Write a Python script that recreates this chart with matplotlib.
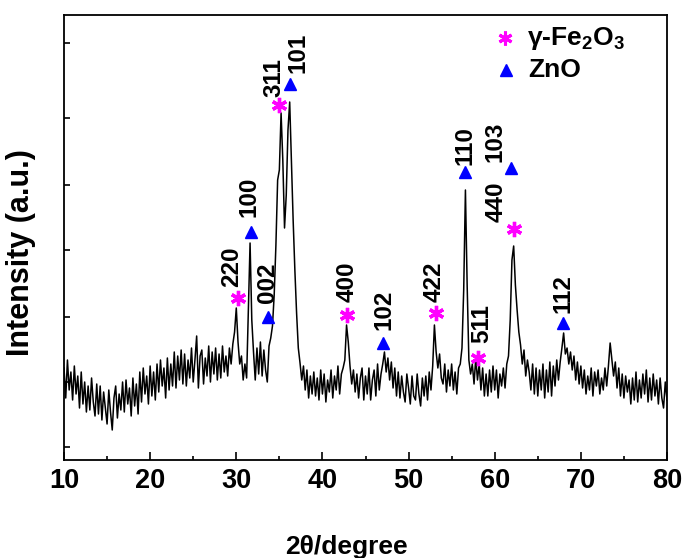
import numpy as np
import matplotlib
matplotlib.use("Agg")
import matplotlib.pyplot as plt

plt.rcParams['font.family'] = ['Liberation Sans', 'DejaVu Sans']
plt.rcParams['mathtext.fontset'] = 'custom'
plt.rcParams['mathtext.rm'] = 'Liberation Sans:bold'
plt.rcParams['mathtext.bf'] = 'Liberation Sans:bold'
plt.rcParams['mathtext.it'] = 'Liberation Sans:bold'

# XRD pattern, 2theta from 10 to 80 in 0.2 degree steps (intensity in arbitrary units)
two_theta_start = 10.0
two_theta_step = 0.2
intensity = [
    92, 62, 100, 70, 88,    # 10
    60, 94, 66, 84, 52,     # 11
    88, 56, 78, 48, 74,     # 12
    50, 82, 58, 44, 76,     # 13
    46, 74, 40, 68, 52,     # 14
    36, 70, 48, 30, 62,     # 15
    74, 42, 66, 50, 78,     # 16
    48, 80, 56, 72, 44,     # 17
    82, 54, 76, 46, 88,     # 18
    58, 92, 66, 84, 56,     # 19
    94, 64, 88, 60, 96,     # 20
    68, 100, 74, 92, 62,    # 21
    102, 70, 96, 74, 108,   # 22
    72, 104, 80, 110, 76,   # 23
    106, 74, 100, 82, 112,  # 24
    78, 100, 124, 72, 104,  # 25
    110, 76, 102, 84, 114,  # 26
    78, 108, 86, 112, 80,   # 27
    106, 82, 114, 88, 104,  # 28
    84, 112, 96, 116, 128,  # 29
    152, 118, 96, 104, 80,  # 30
    96, 82, 150, 217, 140,  # 31
    108, 80, 112, 86, 118,  # 32
    84, 110, 90, 78, 114,   # 33
    122, 134, 165, 215, 280,  # 34
    290, 347, 300, 232, 265,  # 35
    330, 358, 300, 240, 190,  # 36
    147, 112, 97, 80, 94,   # 37
    70, 90, 62, 84, 66,     # 38
    88, 64, 82, 60, 90,     # 39
    66, 86, 58, 80, 68,     # 40
    90, 62, 84, 70, 94,     # 41
    66, 86, 92, 100, 135,   # 42
    118, 94, 76, 90, 68,    # 43
    86, 62, 82, 92, 60,     # 44
    84, 66, 92, 60, 80,     # 45
    90, 64, 96, 70, 86,     # 46
    96, 108, 88, 102, 80,   # 47
    98, 72, 92, 64, 88,     # 48
    62, 84, 68, 58, 86,     # 49
    72, 56, 84, 64, 60,     # 50
    86, 66, 54, 82, 64,     # 51
    84, 60, 88, 70, 94,     # 52
    135, 108, 92, 106, 82,  # 53
    76, 96, 68, 90, 74,     # 54
    96, 70, 88, 66, 92,     # 55
    96, 112, 170, 270, 175,  # 56
    100, 86, 96, 76, 102,   # 57
    80, 96, 70, 92, 64,     # 58
    86, 64, 90, 68, 94,     # 59
    70, 90, 62, 86, 74,     # 60
    92, 72, 96, 104, 140,   # 61
    200, 214, 175, 150, 128,  # 62
    115, 96, 110, 84, 100,  # 63
    88, 70, 96, 66, 92,     # 64
    64, 90, 70, 96, 62,     # 65
    90, 68, 98, 64, 94,     # 66
    74, 100, 80, 98, 112,   # 67
    127, 106, 112, 96, 108,  # 68
    90, 104, 80, 98, 76,    # 69
    94, 72, 90, 66, 84,     # 70
    70, 92, 64, 88, 74,     # 71
    90, 66, 82, 70, 92,     # 72
    74, 94, 117, 100, 84,   # 73
    98, 72, 92, 64, 86,     # 74
    62, 84, 68, 80, 56,     # 75
    82, 60, 88, 58, 80,     # 76
    62, 86, 66, 90, 58,     # 77
    82, 60, 86, 64, 80,     # 78
    56, 82, 62, 52, 78,     # 79
    60,                     # 80
]

# gamma-Fe2O3 reflections
fe_pos = [30.20, 34.96, 42.85, 53.19, 58.06, 62.24]
fe_h = [162, 355, 145, 147, 102, 231]
fe_hkl = ['220', '311', '400', '422', '511', '440']
fe_lab_x = [29.50, 34.38, 42.85, 52.95, 58.53, 60.15]
fe_lab_y = [173, 363, 158, 158, 117, 238]

# ZnO reflections
zno_pos = [31.71, 33.68, 36.24, 47.03, 56.55, 61.89, 67.93]
zno_h = [228, 143, 376, 117, 288, 292, 137]
zno_hkl = ['100', '002', '101', '102', '110', '103', '112']
zno_lab_x = [31.48, 33.68, 37.17, 47.15, 56.55, 60.03, 67.93]
zno_lab_y = [243, 157, 387, 130, 295, 298, 147]

x = two_theta_start + two_theta_step * np.arange(len(intensity))

fig = plt.figure(figsize=(6.83, 5.58), dpi=100)
ax = fig.add_axes([64 / 683, 98 / 558, 603 / 683, 445 / 558])

ax.plot(x, intensity, color='black', lw=1.1)

star = (6, 2, 0)
ax.plot(fe_pos, fe_h, ls='none', marker=star, ms=11, mew=2.4, color='#ff00ff')
ax.plot(zno_pos, zno_h, ls='none', marker='^', ms=9, color='#0000ff')

for lx, ly, t in zip(fe_lab_x + zno_lab_x, fe_lab_y + zno_lab_y, fe_hkl + zno_hkl):
    ax.text(lx, ly, t, rotation=90, ha='center', va='bottom',
            fontsize=17.5, fontweight='bold')

# legend drawn by hand
ax.plot([0.731], [0.948], transform=ax.transAxes, ls='none', marker=star,
        ms=10, mew=2.2, color='#ff00ff')
ax.text(0.767, 0.948, r'$\gamma$-Fe$_2$O$_3$', transform=ax.transAxes,
        fontsize=19, fontweight='bold', va='center', ha='left')
ax.plot([0.733], [0.876], transform=ax.transAxes, ls='none', marker='^',
        ms=8, color='#0000ff')
ax.text(0.770, 0.876, 'ZnO', transform=ax.transAxes,
        fontsize=19, fontweight='bold', va='center', ha='left')

ax.set_xlim(10, 80)
ax.set_ylim(0, 445)
ax.set_xticks(np.arange(10, 81, 10))
ax.set_xticks(np.arange(15, 80, 10), minor=True)
ax.set_yticks([13, 78, 143, 210, 275, 342, 417])
ax.set_yticklabels([])
ax.tick_params(axis='both', which='both', direction='in', top=False, right=False)
ax.tick_params(axis='x', which='major', length=6, width=1.2, labelsize=19.5, pad=6)
ax.tick_params(axis='x', which='minor', length=3, width=1.2)
ax.tick_params(axis='y', length=4, width=1.2)
for lab in ax.get_xticklabels():
    lab.set_fontweight('bold')
for sp in ax.spines.values():
    sp.set_linewidth(1.3)

ax.set_xlabel('2θ/degree', fontsize=19, fontweight='bold')
ax.set_ylabel('Intensity (a.u.)', fontsize=22, fontweight='bold')
ax.xaxis.set_label_coords(0.469, -0.168)
ax.yaxis.set_label_coords(-0.046, 0.467)

fig.savefig('out.png', dpi=100)
